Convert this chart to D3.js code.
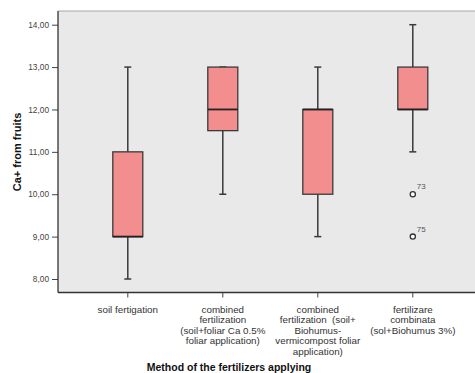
<!DOCTYPE html>
<html>
<head>
<meta charset="utf-8">
<script src="https://cdn.jsdelivr.net/npm/d3@7"></script>
<style>
  html, body { margin: 0; padding: 0; background: #fff; }
  svg { display: block; font-family: "Liberation Sans", Arial, sans-serif; }
  .xlab tspan { white-space: pre; }
</style>
</head>
<body>
<svg id="chart" width="475" height="373"></svg>
<script>
// Fertilization methods (x categories), one label line per array entry
const categories = [
  ["soil fertigation"],
  ["combined", "fertilization", "(soil+foliar Ca 0.5%", "foliar application)"],
  ["combined", "fertilization  (soil+", "Biohumus-", "vermicompost foliar", "application)"],
  ["fertilizare", "combinata", "(sol+Biohumus 3%)"]
];
// Box-plot statistics for Ca+ from fruits
const whiskerLow  = [8, 10, 9, 11];
const q1          = [9, 11.5, 10, 12];
const median      = [9, 12, 12, 12];
const q3          = [11, 13, 12, 13];
const whiskerHigh = [13, 13, 13, 14];
// Outliers: [category index, value, case label]
const outliers = [[3, 10, "73"], [3, 9, "75"]];
const yTicks = [8, 9, 10, 11, 12, 13, 14];

const svg = d3.select("#chart");
const plot = { left: 58, top: 11, right: 480, bottom: 292.5 };

const y = d3.scaleLinear().domain([8, 14]).range([279, 24.7]);
const x = d3.scaleBand().domain(d3.range(categories.length)).range([80.3, 460.3]).padding(0);
const cx = i => x(i) + x.bandwidth() / 2;
const boxW = 30, capW = 7;

// plot background
svg.append("rect")
  .attr("x", plot.left).attr("y", plot.top)
  .attr("width", plot.right - plot.left).attr("height", plot.bottom - plot.top)
  .attr("fill", "#e9e9ea");
svg.append("line")
  .attr("x1", plot.left).attr("x2", plot.right)
  .attr("y1", plot.top).attr("y2", plot.top)
  .attr("stroke", "#a8a8a8").attr("stroke-width", 1.2);

// y axis
const yAxis = d3.axisLeft(y).tickValues(yTicks).tickSize(6).tickPadding(3)
  .tickFormat(d => d3.format(".2f")(d).replace(".", ","));
const gy = svg.append("g").attr("transform", `translate(${plot.left},0)`).call(yAxis);
gy.select(".domain").remove();
gy.selectAll(".tick line").attr("stroke", "#444").attr("stroke-width", 1);
gy.selectAll(".tick text").attr("fill", "#444").attr("font-size", 8.3)
  .attr("font-family", "'Liberation Sans', Arial, sans-serif");
svg.append("line")
  .attr("x1", plot.left).attr("x2", plot.left)
  .attr("y1", plot.top).attr("y2", plot.bottom)
  .attr("stroke", "#333").attr("stroke-width", 1.3);

// x axis
const gx = svg.append("g").attr("transform", `translate(0,${plot.bottom})`);
gx.append("line").attr("x1", plot.left).attr("x2", plot.right)
  .attr("stroke", "#333").attr("stroke-width", 1.3);
categories.forEach((lines, i) => {
  gx.append("line").attr("x1", cx(i)).attr("x2", cx(i)).attr("y1", 0).attr("y2", 5)
    .attr("stroke", "#444").attr("stroke-width", 1);
  const t = gx.append("text").attr("class", "xlab").attr("text-anchor", "middle")
    .attr("font-size", 9.8).attr("fill", "#333");
  lines.forEach((s, k) => {
    t.append("tspan").attr("x", cx(i)).attr("y", 20.5 + k * 10.4).text(s);
  });
});

// axis titles
svg.append("text")
  .attr("transform", "translate(21,152) rotate(-90)")
  .attr("text-anchor", "middle").attr("font-size", 11).attr("font-weight", "bold")
  .attr("fill", "#111").text("Ca+ from fruits");
svg.append("text")
  .attr("x", 229).attr("y", 371)
  .attr("text-anchor", "middle").attr("font-size", 10.5).attr("font-weight", "bold")
  .attr("fill", "#111").text("Method of the fertilizers applying");

// boxes
const g = svg.append("g");
categories.forEach((_, i) => {
  const c = cx(i);
  const stroke = "#3a3a3a";
  // whiskers
  g.append("line").attr("x1", c).attr("x2", c).attr("y1", y(whiskerHigh[i])).attr("y2", y(q3[i]))
    .attr("stroke", stroke).attr("stroke-width", 1.5);
  g.append("line").attr("x1", c).attr("x2", c).attr("y1", y(q1[i])).attr("y2", y(whiskerLow[i]))
    .attr("stroke", stroke).attr("stroke-width", 1.5);
  [whiskerHigh[i], whiskerLow[i]].forEach(v => {
    g.append("line").attr("x1", c - capW / 2).attr("x2", c + capW / 2)
      .attr("y1", y(v)).attr("y2", y(v)).attr("stroke", stroke).attr("stroke-width", 1.5);
  });
  // box
  g.append("rect")
    .attr("x", c - boxW / 2).attr("y", y(q3[i]))
    .attr("width", boxW).attr("height", y(q1[i]) - y(q3[i]))
    .attr("fill", "#f28e8e").attr("stroke", stroke).attr("stroke-width", 1.3);
  // median
  g.append("line").attr("x1", c - boxW / 2).attr("x2", c + boxW / 2)
    .attr("y1", y(median[i])).attr("y2", y(median[i]))
    .attr("stroke", "#222").attr("stroke-width", 1.8);
});

// outliers
outliers.forEach(([i, v, lab]) => {
  g.append("circle").attr("cx", cx(i)).attr("cy", y(v)).attr("r", 2.6)
    .attr("fill", "#fff").attr("stroke", "#333").attr("stroke-width", 1.3);
  g.append("text").attr("x", cx(i) + 4).attr("y", y(v) - 5)
    .attr("font-size", 8).attr("fill", "#555").text(lab);
});
</script>
</body>
</html>
